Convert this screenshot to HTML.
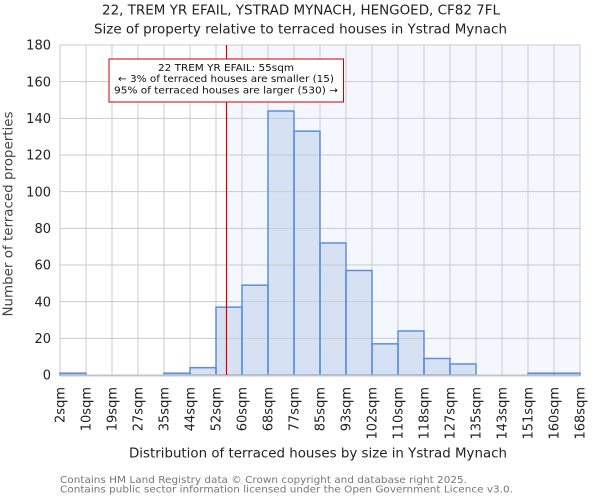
<!DOCTYPE html>
<html>
<head>
<meta charset="utf-8">
<style>
html,body{margin:0;padding:0;background:#fff;}
svg{display:block;}
text{font-family:"DejaVu Sans","Liberation Sans",sans-serif;}
</style>
</head>
<body>
<svg width="600" height="500" viewBox="0 0 600 500" xmlns="http://www.w3.org/2000/svg">
<rect x="0" y="0" width="600" height="500" fill="#ffffff"/>
<!-- titles -->
<text x="301" y="14.6" font-size="13.5" text-anchor="middle" fill="#222" textLength="398" lengthAdjust="spacingAndGlyphs">22, TREM YR EFAIL, YSTRAD MYNACH, HENGOED, CF82 7FL</text>
<text x="300.5" y="33.6" font-size="13.5" text-anchor="middle" fill="#222" textLength="413" lengthAdjust="spacingAndGlyphs">Size of property relative to terraced houses in Ystrad Mynach</text>

<!-- plot background -->
<rect x="60" y="45" width="166.5" height="330" fill="#ffffff"/>
<rect x="226.5" y="45" width="353.5" height="330" fill="#f4f7fe"/>

<!-- bar fills -->
<g fill="#d6e2f4" stroke="none">
<rect x="60" y="373.17" width="26" height="1.83"/>
<rect x="164" y="373.17" width="26" height="1.83"/>
<rect x="190" y="367.67" width="26" height="7.33"/>
<rect x="216" y="307.17" width="26" height="67.83"/>
<rect x="242" y="285.17" width="26" height="89.83"/>
<rect x="268" y="111" width="26" height="264"/>
<rect x="294" y="131.17" width="26" height="243.83"/>
<rect x="320" y="243" width="26" height="132"/>
<rect x="346" y="270.5" width="26" height="104.5"/>
<rect x="372" y="343.83" width="26" height="31.17"/>
<rect x="398" y="331" width="26" height="44"/>
<rect x="424" y="358.5" width="26" height="16.5"/>
<rect x="450" y="364" width="26" height="11"/>
<rect x="528" y="373.17" width="26" height="1.83"/>
<rect x="554" y="373.17" width="26" height="1.83"/>
</g>

<!-- grid -->
<g stroke="#cbcbcb" stroke-width="1">
<line x1="60" y1="45" x2="580" y2="45"/>
<line x1="60" y1="81.67" x2="580" y2="81.67"/>
<line x1="60" y1="118.33" x2="580" y2="118.33"/>
<line x1="60" y1="155" x2="580" y2="155"/>
<line x1="60" y1="191.67" x2="580" y2="191.67"/>
<line x1="60" y1="228.33" x2="580" y2="228.33"/>
<line x1="60" y1="265" x2="580" y2="265"/>
<line x1="60" y1="301.67" x2="580" y2="301.67"/>
<line x1="60" y1="338.33" x2="580" y2="338.33"/>
<line x1="60" y1="45" x2="60" y2="375"/>
<line x1="86" y1="45" x2="86" y2="375"/>
<line x1="112" y1="45" x2="112" y2="375"/>
<line x1="138" y1="45" x2="138" y2="375"/>
<line x1="164" y1="45" x2="164" y2="375"/>
<line x1="190" y1="45" x2="190" y2="375"/>
<line x1="216" y1="45" x2="216" y2="375"/>
<line x1="242" y1="45" x2="242" y2="375"/>
<line x1="268" y1="45" x2="268" y2="375"/>
<line x1="294" y1="45" x2="294" y2="375"/>
<line x1="320" y1="45" x2="320" y2="375"/>
<line x1="346" y1="45" x2="346" y2="375"/>
<line x1="372" y1="45" x2="372" y2="375"/>
<line x1="398" y1="45" x2="398" y2="375"/>
<line x1="424" y1="45" x2="424" y2="375"/>
<line x1="450" y1="45" x2="450" y2="375"/>
<line x1="476" y1="45" x2="476" y2="375"/>
<line x1="502" y1="45" x2="502" y2="375"/>
<line x1="528" y1="45" x2="528" y2="375"/>
<line x1="554" y1="45" x2="554" y2="375"/>
<line x1="580" y1="45" x2="580" y2="375"/>
</g>

<!-- bar outlines -->
<g fill="none" stroke="#5b8fd9" stroke-width="1.5">
<rect x="60" y="373.17" width="26" height="1.83"/>
<rect x="164" y="373.17" width="26" height="1.83"/>
<rect x="190" y="367.67" width="26" height="7.33"/>
<rect x="216" y="307.17" width="26" height="67.83"/>
<rect x="242" y="285.17" width="26" height="89.83"/>
<rect x="268" y="111" width="26" height="264"/>
<rect x="294" y="131.17" width="26" height="243.83"/>
<rect x="320" y="243" width="26" height="132"/>
<rect x="346" y="270.5" width="26" height="104.5"/>
<rect x="372" y="343.83" width="26" height="31.17"/>
<rect x="398" y="331" width="26" height="44"/>
<rect x="424" y="358.5" width="26" height="16.5"/>
<rect x="450" y="364" width="26" height="11"/>
<rect x="528" y="373.17" width="26" height="1.83"/>
<rect x="554" y="373.17" width="26" height="1.83"/>
</g>

<!-- bottom axis line -->
<line x1="60" y1="375.5" x2="580" y2="375.5" stroke="#c4c4c4" stroke-width="2"/>

<!-- red marker line -->
<line x1="226.5" y1="45" x2="226.5" y2="375" stroke="#dd0000" stroke-width="1.2"/>

<!-- annotation -->
<rect x="109" y="59" width="234.5" height="43" fill="#ffffff" stroke="#cc0000" stroke-width="1"/>
<g font-size="10" text-anchor="middle" fill="#111">
<text x="226" y="70.8" textLength="136" lengthAdjust="spacingAndGlyphs">22 TREM YR EFAIL: 55sqm</text>
<text x="226" y="82.2" textLength="216" lengthAdjust="spacingAndGlyphs">← 3% of terraced houses are smaller (15)</text>
<text x="226" y="93.5" textLength="224" lengthAdjust="spacingAndGlyphs">95% of terraced houses are larger (530) →</text>
</g>

<!-- y tick labels -->
<g font-size="13" text-anchor="end" fill="#222">
<text x="51" y="49.7">180</text>
<text x="51" y="86.4">160</text>
<text x="51" y="123">140</text>
<text x="51" y="159.7">120</text>
<text x="51" y="196.4">100</text>
<text x="51" y="233">80</text>
<text x="51" y="269.7">60</text>
<text x="51" y="306.4">40</text>
<text x="51" y="343">20</text>
<text x="51" y="379.7">0</text>
</g>

<!-- y axis title -->
<text transform="translate(12.5,214) rotate(-90)" font-size="13" text-anchor="middle" fill="#444" textLength="205" lengthAdjust="spacingAndGlyphs">Number of terraced properties</text>

<!-- x tick labels -->
<g font-size="13" text-anchor="end" fill="#222">
<text transform="translate(64.7,387) rotate(-90)">2sqm</text>
<text transform="translate(90.7,387) rotate(-90)">10sqm</text>
<text transform="translate(116.7,387) rotate(-90)">19sqm</text>
<text transform="translate(142.7,387) rotate(-90)">27sqm</text>
<text transform="translate(168.7,387) rotate(-90)">35sqm</text>
<text transform="translate(194.7,387) rotate(-90)">44sqm</text>
<text transform="translate(220.7,387) rotate(-90)">52sqm</text>
<text transform="translate(246.7,387) rotate(-90)">60sqm</text>
<text transform="translate(272.7,387) rotate(-90)">68sqm</text>
<text transform="translate(298.7,387) rotate(-90)">77sqm</text>
<text transform="translate(324.7,387) rotate(-90)">85sqm</text>
<text transform="translate(350.7,387) rotate(-90)">93sqm</text>
<text transform="translate(376.7,387) rotate(-90)">102sqm</text>
<text transform="translate(402.7,387) rotate(-90)">110sqm</text>
<text transform="translate(428.7,387) rotate(-90)">118sqm</text>
<text transform="translate(454.7,387) rotate(-90)">127sqm</text>
<text transform="translate(480.7,387) rotate(-90)">135sqm</text>
<text transform="translate(506.7,387) rotate(-90)">143sqm</text>
<text transform="translate(532.7,387) rotate(-90)">151sqm</text>
<text transform="translate(558.7,387) rotate(-90)">160sqm</text>
<text transform="translate(584.7,387) rotate(-90)">168sqm</text>
</g>

<!-- x axis title -->
<text x="318" y="457.5" font-size="13" text-anchor="middle" fill="#222" textLength="378" lengthAdjust="spacingAndGlyphs">Distribution of terraced houses by size in Ystrad Mynach</text>

<!-- footer -->
<g font-size="10" fill="#777">
<text x="60" y="483" textLength="407" lengthAdjust="spacingAndGlyphs">Contains HM Land Registry data © Crown copyright and database right 2025.</text>
<text x="60" y="492.5" textLength="453" lengthAdjust="spacingAndGlyphs">Contains public sector information licensed under the Open Government Licence v3.0.</text>
</g>
</svg>
</body>
</html>
